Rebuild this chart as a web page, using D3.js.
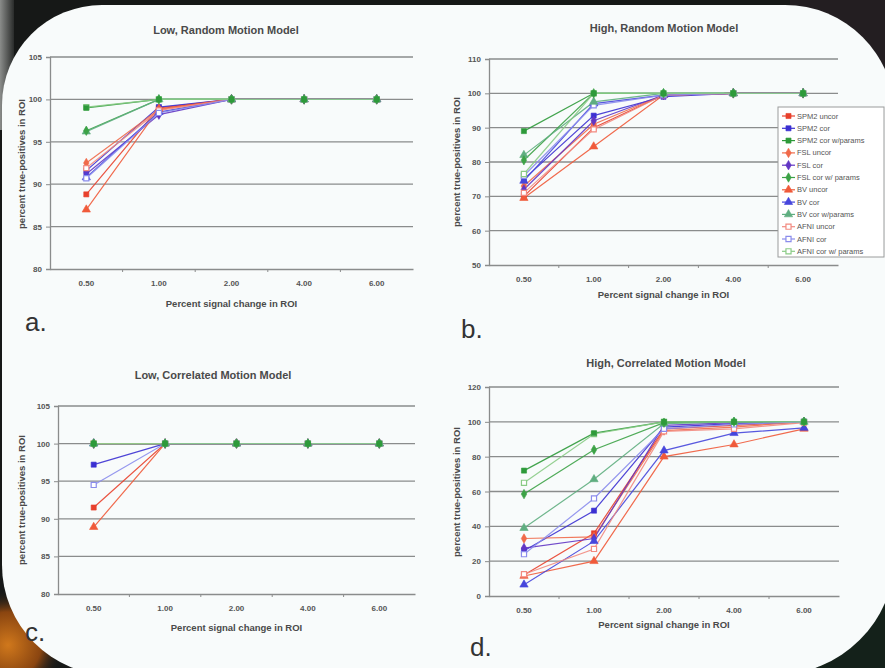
<!DOCTYPE html>
<html>
<head>
<meta charset="utf-8">
<script src="https://cdn.jsdelivr.net/npm/d3@7"></script>
<style>
body { margin: 0; background: #1b1d1c; }
svg { display: block; font-family: "Liberation Sans", Arial, sans-serif; }
</style>
</head>
<body>
<script>
// x categories (percent signal change)
var categories = ["0.50", "1.00", "2.00", "4.00", "6.00"];

var seriesNames = ["SPM2 uncor", "SPM2 cor", "SPM2 cor w/params",
  "FSL uncor", "FSL cor", "FSL cor w/ params",
  "BV uncor", "BV cor", "BV cor w/params",
  "AFNI uncor", "AFNI cor", "AFNI cor w/ params"];

var seriesColors = ["#e8402c", "#3b30d2", "#2e9a3a",
  "#f06a4a", "#6236c4", "#3ca246",
  "#f05a3a", "#4646dc", "#5fae80",
  "#f28a80", "#8a8cec", "#8acb86"];

// marker per package: SPM2 square, FSL diamond, BV triangle, AFNI open square
var seriesShapes = ["square", "square", "square", "diamond", "diamond", "diamond",
  "triangle", "triangle", "triangle", "open", "open", "open"];

// values, one row per series, one column per category
var lowRandom = [
  [88.8, 99.0, 100, 100, 100],
  [91.6, 99.1, 100, 100, 100],
  [99.0, 100, 100, 100, 100],
  [92.5, 98.8, 100, 100, 100],
  [91.2, 98.2, 100, 100, 100],
  [96.3, 100, 100, 100, 100],
  [87.0, 98.9, 100, 100, 100],
  [90.8, 98.5, 100, 100, 100],
  [96.2, 100, 100, 100, 100],
  [91.9, 98.7, 100, 100, 100],
  [90.7, 98.4, 100, 100, 100],
  [99.1, 100, 100, 100, 100]
];

var highRandom = [
  [70.0, 90.0, 99.5, 100, 100],
  [75.0, 93.5, 99.0, 100, 100],
  [89.0, 100, 100, 100, 100],
  [73.0, 91.0, 99.5, 100, 100],
  [72.0, 92.0, 99.5, 100, 100],
  [80.5, 100, 100, 100, 100],
  [69.5, 84.5, 99.5, 100, 100],
  [74.5, 97.0, 99.5, 100, 100],
  [82.0, 97.5, 100, 100, 100],
  [71.0, 89.5, 99.5, 100, 100],
  [76.0, 96.5, 99.5, 100, 100],
  [76.5, 100, 100, 100, 100]
];

var lowCorrelated = [
  [91.5, 100, 100, 100, 100],
  [97.2, 100, 100, 100, 100],
  [100, 100, 100, 100, 100],
  [100, 100, 100, 100, 100],
  [100, 100, 100, 100, 100],
  [100, 100, 100, 100, 100],
  [88.9, 100, 100, 100, 100],
  [100, 100, 100, 100, 100],
  [100, 100, 100, 100, 100],
  [100, 100, 100, 100, 100],
  [94.5, 100, 100, 100, 100],
  [100, 100, 100, 100, 100]
];

var highCorrelated = [
  [12.0, 36.0, 96.0, 98.0, 100],
  [26.0, 49.0, 97.0, 99.0, 100],
  [72.0, 93.5, 100, 100, 100],
  [33.0, 34.0, 95.0, 97.0, 100],
  [27.5, 33.0, 98.0, 99.5, 100],
  [58.5, 84.0, 99.5, 100, 100],
  [11.5, 20.0, 80.0, 87.0, 96.0],
  [6.5, 31.5, 83.5, 93.5, 96.5],
  [39.0, 67.0, 99.0, 100, 100],
  [12.5, 27.0, 94.5, 96.0, 99.5],
  [24.0, 56.0, 96.0, 98.5, 100],
  [65.0, 93.0, 100, 100, 100]
];

var lowTicks = [80, 85, 90, 95, 100, 105];
var highRandomTicks = [50, 60, 70, 80, 90, 100, 110];
var highCorrTicks = [0, 20, 40, 60, 80, 100, 120];

// markers of the "w/params" series end up on top, SPM2 last
var drawOrder = [0, 1, 3, 4, 6, 7, 9, 10, 11, 8, 5, 2];

var W = 885, H = 668;
var svg = d3.select("body").append("svg").attr("width", W).attr("height", H);

// dark slide background
var defs = svg.append("defs");
var g1 = defs.append("radialGradient").attr("id", "blob");
g1.append("stop").attr("offset", "0%").attr("stop-color", "#d0781c");
g1.append("stop").attr("offset", "60%").attr("stop-color", "#8a4510");
g1.append("stop").attr("offset", "100%").attr("stop-color", "#1b1d1c").attr("stop-opacity", 0);
var g2 = defs.append("linearGradient").attr("id", "strip").attr("x1", 0).attr("x2", 1);
g2.append("stop").attr("offset", "0%").attr("stop-color", "#8a8c8a");
g2.append("stop").attr("offset", "100%").attr("stop-color", "#2a2c2b");

svg.append("rect").attr("width", W).attr("height", H).attr("fill", "#161817");
svg.append("rect").attr("x", 0).attr("y", 0).attr("width", 14).attr("height", 130).attr("fill", "url(#strip)");
svg.append("rect").attr("x", 790).attr("y", 0).attr("width", 95).attr("height", 90).attr("fill", "#231e21");
svg.append("rect").attr("x", 760).attr("y", 560).attr("width", 125).attr("height", 108).attr("fill", "#14211a");
svg.append("circle").attr("cx", 8).attr("cy", 645).attr("r", 55).attr("fill", "url(#blob)");

// white rounded panel
svg.append("path")
  .attr("d", "M102,5 H785 A110,110 0 0 1 895,115 V555 A120,120 0 0 1 775,675 H112 A110,110 0 0 1 2,565 V105 A100,100 0 0 1 102,5 Z")
  .attr("fill", "#f8fbfb");

var panels = [
  { data: lowRandom, ticks: lowTicks, x0: 50, x1: 413, top: 57, bot: 269,
    title: "Low, Random Motion Model", tx: 226, ty: 30, labY: 285, xtY: 304, ytX: 22, ytY: 164,
    letter: "a.", lx: 25, ly: 331 },
  { data: highRandom, ticks: highRandomTicks, x0: 489, x1: 838, top: 59, bot: 265,
    title: "High, Random Motion Model", tx: 664, ty: 28, labY: 280, xtY: 295, ytX: 457, ytY: 162,
    letter: "b.", lx: 461, ly: 338, legend: true },
  { data: lowCorrelated, ticks: lowTicks, x0: 58, x1: 415, top: 406, bot: 594,
    title: "Low, Correlated Motion Model", tx: 213, ty: 375, labY: 609, xtY: 628, ytX: 22, ytY: 500,
    letter: "c.", lx: 25, ly: 641 },
  { data: highCorrelated, ticks: highCorrTicks, x0: 489, x1: 839, top: 387, bot: 596,
    title: "High, Correlated Motion Model", tx: 666, ty: 363, labY: 611, xtY: 625, ytX: 457, ytY: 492,
    letter: "d.", lx: 470, ly: 656 }
];

function marker(sel, i) {
  var shape = seriesShapes[i];
  var type = shape === "diamond" ? d3.symbolDiamond : shape === "triangle" ? d3.symbolTriangle : d3.symbolSquare;
  sel.append("path")
    .attr("d", d3.symbol().type(type).size(shape === "triangle" ? 30 : 26))
    .attr("fill", shape === "open" ? "#ffffff" : seriesColors[i])
    .attr("stroke", seriesColors[i])
    .attr("stroke-width", shape === "open" ? 1.2 : 0.6);
}

panels.forEach(function(p) {
  var g = svg.append("g");
  var x = d3.scaleBand().domain(categories).range([p.x0, p.x1]);
  var y = d3.scaleLinear().domain(d3.extent(p.ticks)).range([p.bot, p.top]);

  // gridlines
  g.selectAll(".grid").data(p.ticks.slice(1)).enter().append("line")
    .attr("x1", p.x0).attr("x2", p.x1)
    .attr("y1", function(d) { return y(d); }).attr("y2", function(d) { return y(d); })
    .attr("stroke", "#8a8c8c").attr("stroke-width", 1.3);

  // axes
  var ax = g.append("g").attr("transform", "translate(0," + p.bot + ")")
    .call(d3.axisBottom(x).tickSize(0).tickPadding(11));
  ax.select(".domain").attr("stroke", "#8a8c8c").attr("stroke-width", 1.3);
  ax.selectAll("text").attr("font-size", "8px").attr("font-weight", "bold").attr("fill", "#555");
  // small ticks between categories
  g.selectAll(".xt").data(categories.slice(1)).enter().append("line")
    .attr("x1", function(d) { return x(d); }).attr("x2", function(d) { return x(d); })
    .attr("y1", p.bot).attr("y2", p.bot + 3).attr("stroke", "#8a8c8c");

  var ay = g.append("g").attr("transform", "translate(" + p.x0 + ",0)")
    .call(d3.axisLeft(y).tickValues(p.ticks).tickSize(4).tickPadding(4));
  ay.select(".domain").attr("stroke", "#8a8c8c").attr("stroke-width", 1.3);
  ay.selectAll("line").attr("stroke", "#8a8c8c");
  ay.selectAll("text").attr("font-size", "8px").attr("font-weight", "bold").attr("fill", "#555");

  // series lines (legend order, so light AFNI green sits on top) and markers
  var cx = function(j) { return x(categories[j]) + x.bandwidth() / 2; };
  var line = d3.line()
    .x(function(d, j) { return cx(j); })
    .y(function(d) { return y(d); });
  p.data.forEach(function(vals, i) {
    g.append("path").attr("d", line(vals)).attr("fill", "none")
      .attr("stroke", seriesColors[i]).attr("stroke-width", 1.2).attr("stroke-opacity", 0.9);
  });
  drawOrder.forEach(function(i) {
    g.selectAll(null).data(p.data[i]).enter().append("g")
      .attr("transform", function(d, j) { return "translate(" + cx(j) + "," + y(d) + ")"; })
      .each(function() { marker(d3.select(this), i); });
  });

  // texts
  g.append("text").attr("x", p.tx).attr("y", p.ty + 4).attr("text-anchor", "middle")
    .attr("font-size", "11px").attr("font-weight", "bold").attr("fill", "#4a4a4a").text(p.title);
  g.append("text").attr("x", (p.x0 + p.x1) / 2).attr("y", p.xtY + 3).attr("text-anchor", "middle")
    .attr("font-size", "9.5px").attr("font-weight", "bold").attr("fill", "#4a4a4a")
    .text("Percent signal change in ROI");
  g.append("text").attr("transform", "translate(" + (p.ytX + 3) + "," + p.ytY + ") rotate(-90)")
    .attr("text-anchor", "middle").attr("font-size", "9.5px").attr("font-weight", "bold").attr("fill", "#4a4a4a")
    .text("percent true-positives in ROI");
  g.append("text").attr("x", p.lx).attr("y", p.ly).attr("font-size", "26px").attr("fill", "#333")
    .text(p.letter);

  if (p.legend) {
    var lg = g.append("g").attr("transform", "translate(778,107)");
    lg.append("rect").attr("width", 106).attr("height", 150)
      .attr("fill", "#ffffff").attr("stroke", "#9a9c9c").attr("stroke-width", 1);
    var item = lg.selectAll(".item").data(seriesNames).enter().append("g")
      .attr("transform", function(d, i) { return "translate(0," + (9 + i * 12.3) + ")"; });
    item.append("line").attr("x1", 4).attr("x2", 17).attr("stroke", function(d, i) { return seriesColors[i]; })
      .attr("stroke-width", 1.2);
    item.append("g").attr("transform", "translate(10.5,0)")
      .each(function(d, i) { marker(d3.select(this), i); });
    item.append("text").attr("x", 19).attr("y", 2.5).attr("font-size", "7.5px").attr("fill", "#555")
      .text(function(d) { return d; });
  }
});
</script>
</body>
</html>
